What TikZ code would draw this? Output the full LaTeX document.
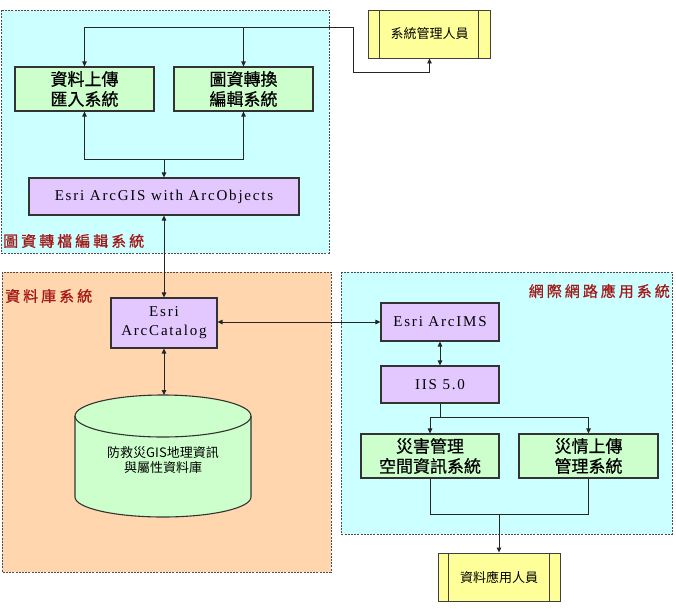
\documentclass[tikz,border=0pt]{standalone}
\usepackage{fontspec}
\setmainfont{Liberation Serif}
\newfontfamily\cjk{Noto Sans CJK TC}
\newfontfamily\cjkb[FakeBold=0.6]{Noto Sans CJK TC}
\newfontfamily\cjksp[LetterSpace=20,FakeBold=0.8]{Noto Sans CJK TC}
\newfontfamily\latsp[LetterSpace=12]{Liberation Serif}
\usetikzlibrary{arrows.meta}
\definecolor{regcyan}{HTML}{CCFFFF}
\definecolor{regorange}{HTML}{FFD6AD}
\definecolor{boxgreen}{HTML}{CCFFCC}
\definecolor{boxpurple}{HTML}{E2C8FF}
\definecolor{boxyellow}{HTML}{FFFF99}
\definecolor{labred}{HTML}{A31A1A}
\tikzset{
  region/.style={draw=black!70, line width=0.8pt, dash pattern=on 2pt off 1.2pt},
  reglabel/.style={text=labred, font={\cjksp\fontsize{15}{18}\selectfont}, inner sep=0pt},
  greenbox/.style={draw=black!80, line width=1.1pt, fill=boxgreen, inner sep=0pt,
    minimum height=44pt, align=center, font={\cjkb\fontsize{17}{20}\selectfont}},
  purplebox/.style={draw=black!80, line width=1.1pt, fill=boxpurple, inner sep=0pt,
    align=center, font={\latsp\fontsize{15}{19}\selectfont}},
  personbox/.style={draw=black!75, line width=0.9pt, fill=boxyellow, inner sep=0pt,
    minimum width=122pt, minimum height=48pt, font={\cjk\fontsize{13}{16}\selectfont}},
  conn/.style={draw=black!85, line width=0.9pt},
  tip/.style={-{Triangle[length=5pt,width=4.5pt]}},
  tips/.style={{Triangle[length=5pt,width=4.5pt]}-{Triangle[length=5pt,width=4.5pt]}}
}
\begin{document}
\begin{tikzpicture}[x=1pt,y=-1pt]
\useasboundingbox (0,0) rectangle (676,608);
% regions
\draw[region, fill=regcyan] (1,10) rectangle (329,253);
\draw[region, fill=regorange] (2,272) rectangle (331,572);
\draw[region, fill=regcyan] (341,272) rectangle (672,534);
\node[reglabel, anchor=west] (lab1) at (3,241) {圖資轉檔編輯系統};
\node[reglabel, anchor=west] (lab2) at (5,296) {資料庫系統};
\node[reglabel, anchor=east] (lab3) at (670,291) {網際網路應用系統};
% nodes
\node[personbox] (admin) at (429.5,34) {系統管理人員};
\draw[draw=black!75, line width=0.9pt] ([xshift=11pt]admin.north west) -- ([xshift=11pt]admin.south west)
  ([xshift=-13pt]admin.north east) -- ([xshift=-13pt]admin.south east);
\node[greenbox, minimum width=139pt] (up1) at (84.5,89) {資料上傳\\匯入系統};
\node[greenbox, minimum width=139pt] (up2) at (243.5,89) {圖資轉換\\編輯系統};
\node[purplebox, minimum width=270pt, minimum height=37pt] (arcgis) at (164,196.5) {Esri ArcGIS with ArcObjects};
\node[purplebox, minimum width=106pt, minimum height=50pt] (catalog) at (164,323) {Esri\\ArcCatalog};
% database cylinder
\fill[boxgreen] (75,416) -- (75,497) arc(180:0:88 and 20) -- (251,416) arc(0:-180:88 and 21) -- cycle;
\draw[draw=black!80, line width=1.1pt] (75,416) -- (75,497) arc(180:0:88 and 20) -- (251,416) arc(0:-180:88 and 21) -- cycle;
\draw[draw=black!80, line width=1.1pt] (75,416) arc(180:0:88 and 21);
\coordinate (dbtop) at (163,395);
\node[inner sep=0pt, align=center, font={\cjk\fontsize{13}{15}\selectfont}] (db) at (163,460) {防救災GIS地理資訊\\與屬性資料庫};
\node[purplebox, minimum width=118pt, minimum height=38pt] (ims) at (440,322) {Esri ArcIMS};
\node[purplebox, minimum width=118pt, minimum height=37pt] (iis) at (440,384.5) {IIS 5.0};
\node[greenbox, minimum width=138pt] (g3) at (430,456) {災害管理\\空間資訊系統};
\node[greenbox, minimum width=139pt] (g4) at (588.5,456) {災情上傳\\管理系統};
\node[personbox] (user) at (499,577) {資料應用人員};
\draw[draw=black!75, line width=0.9pt] ([xshift=11pt]user.north west) -- ([xshift=11pt]user.south west)
  ([xshift=-11pt]user.north east) -- ([xshift=-11pt]user.south east);
% connectors
\coordinate (k1) at (353,27);
\coordinate (k2) at (0,72);
\coordinate (k3) at (0,159);
\coordinate (k4) at (0,417);
\coordinate (k5) at (0,514);
\draw[conn, tips] (up1.north) |- (k1) |- (admin.south |- k2) -- (admin.south);
\draw[conn, tip] (up2.north |- k1) -- (up2.north);
\draw[conn, tips] (up1.south) |- (up2.south |- k3) -- (up2.south);
\draw[conn, tip] (arcgis.north |- k3) -- (arcgis.north);
\draw[conn, tips] (arcgis.south) -- (catalog.north);
\draw[conn, tips] (catalog.south) -- (catalog.south |- dbtop);
\draw[conn, tips] (catalog.east |- ims.west) -- (ims.west);
\draw[conn, tips] (ims.south) -- (iis.south |- iis.north);
\draw[conn, tip] (iis.south) |- (g3.north |- k4) -- (g3.north);
\draw[conn, tip] (iis.south |- k4) -| (g4.north);
\draw[conn] (g3.south) |- (k5 -| g4.south) -- (g4.south);
\draw[conn, tip] (user.north |- k5) -- (user.north);
\end{tikzpicture}
\end{document}
